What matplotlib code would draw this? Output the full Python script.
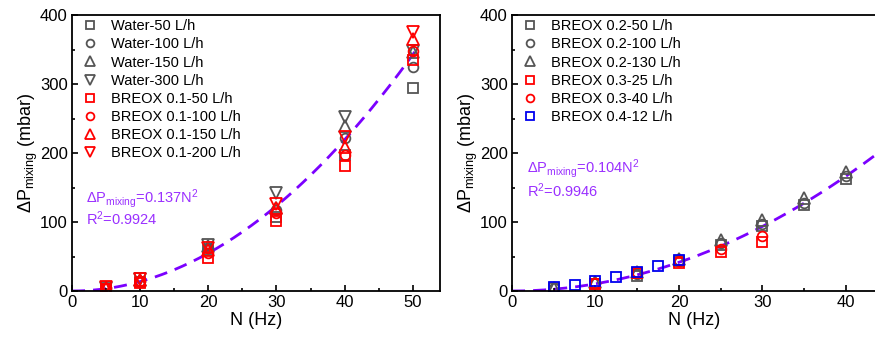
"""Pressure drop in the mixing section versus rotor frequency, two panels."""

import matplotlib.pyplot as plt
import numpy as np

plt.rcParams["font.family"] = ["Liberation Sans", "DejaVu Sans"]
plt.rcParams["mathtext.fontset"] = "custom"
plt.rcParams["mathtext.rm"] = "Liberation Sans"
plt.rcParams["mathtext.it"] = "Liberation Sans"

GRAY = "#555555"
RED = "#ff0000"
BLUE = "#0000ee"
FIT_COLOR = "#7b00ff"
TEXT_COLOR = "#9a30ff"

# left panel: water and BREOX 0.1
N_LEFT = [5, 10, 20, 30, 40, 50]
water_50 = [3, 13, 60, 107, 197, 294]
water_100 = [4, 14, 62, 117, 222, 324]
water_150 = [5, 16, 65, 120, 239, 346]
water_300 = [5, 17, 66, 142, 252, 348]
breox01_50 = [3, 12, 48, 101, 181, 335]
breox01_100 = [4, 14, 55, 113, 197, 348]
breox01_150 = [5, 16, 60, 120, 209, 365]
breox01_200 = [6, 17, 62, 126, 223, 376]
FIT_LEFT = 0.137

# right panel: BREOX 0.2, 0.3 and 0.4
N_RIGHT = [5, 10, 15, 20, 25, 30, 35, 40]
breox02_50 = [4, 10, 22, 43, 67, 94, 125, 162]
breox02_100 = [4, 11, 24, 45, 69, 97, 128, 166]
breox02_130 = [5, 13, 27, 47, 74, 103, 135, 173]
N_RIGHT_03 = [10, 15, 20, 25, 30]
breox03_25 = [10, 26, 41, 57, 71]
breox03_40 = [12, 27, 43, 61, 79]
N_RIGHT_04 = [5, 7.5, 10, 12.5, 15, 17.5, 20]
breox04_12 = [6, 9, 14, 21, 28, 36, 45]
FIT_RIGHT = 0.104

LEFT_SERIES = [
    ("Water-50 L/h", N_LEFT, water_50, "s", GRAY),
    ("Water-100 L/h", N_LEFT, water_100, "o", GRAY),
    ("Water-150 L/h", N_LEFT, water_150, "^", GRAY),
    ("Water-300 L/h", N_LEFT, water_300, "v", GRAY),
    ("BREOX 0.1-50 L/h", N_LEFT, breox01_50, "s", RED),
    ("BREOX 0.1-100 L/h", N_LEFT, breox01_100, "o", RED),
    ("BREOX 0.1-150 L/h", N_LEFT, breox01_150, "^", RED),
    ("BREOX 0.1-200 L/h", N_LEFT, breox01_200, "v", RED),
]

RIGHT_SERIES = [
    ("BREOX 0.2-50 L/h", N_RIGHT, breox02_50, "s", GRAY),
    ("BREOX 0.2-100 L/h", N_RIGHT, breox02_100, "o", GRAY),
    ("BREOX 0.2-130 L/h", N_RIGHT, breox02_130, "^", GRAY),
    ("BREOX 0.3-25 L/h", N_RIGHT_03, breox03_25, "s", RED),
    ("BREOX 0.3-40 L/h", N_RIGHT_03, breox03_40, "o", RED),
    ("BREOX 0.4-12 L/h", N_RIGHT_04, breox04_12, "s", BLUE),
]

MARKER_SIZE = {"s": 6.5, "o": 7, "^": 8.5, "v": 8.5}


def draw_panel(ax, series, fit_coef, fit_end, xlim, xticks, text_pos, r2_label):
    for label, x, y, marker, color in series:
        ax.plot(x, y, linestyle="none", marker=marker, markersize=MARKER_SIZE[marker],
                markerfacecolor="none", markeredgecolor=color, markeredgewidth=1.3,
                label=label)

    n_fit = np.linspace(0, fit_end, 200)
    ax.plot(n_fit, fit_coef * n_fit ** 2, color=FIT_COLOR, linewidth=2,
            dashes=(4.7, 2.9), zorder=1)

    ax.set_xlim(*xlim)
    ax.set_ylim(0, 400)
    ax.set_xticks(xticks)
    ax.set_xticks(np.arange(5, xlim[1], 10), minor=True)
    ax.set_yticks([0, 100, 200, 300, 400])
    ax.set_yticks([50, 150, 250, 350], minor=True)
    ax.tick_params(which="both", direction="in", labelsize=12, width=1.2, pad=3)
    ax.tick_params(which="major", length=4)
    ax.tick_params(which="minor", length=2.5)
    for spine in ax.spines.values():
        spine.set_linewidth(1.3)

    ax.set_xlabel("N (Hz)", fontsize=13, labelpad=1)
    ax.set_ylabel(r"$\Delta$P$_{\rm mixing}$ (mbar)", fontsize=13, labelpad=0)

    ax.legend(loc="upper left", frameon=False, fontsize=10.5, markerscale=0.8,
              handletextpad=0.5, handlelength=1.85, labelspacing=0.28,
              borderpad=0.1, borderaxespad=0.2)

    eq_text = r"$\Delta$P$_{\rm mixing}$=" + f"{fit_coef:.3f}" + r"N$^{2}$"
    ax.text(text_pos[0], text_pos[1], eq_text, transform=ax.transAxes,
            color=TEXT_COLOR, fontsize=10.5)
    ax.text(text_pos[0], text_pos[2], r2_label, transform=ax.transAxes,
            color=TEXT_COLOR, fontsize=10.5)


def main():
    fig = plt.figure(figsize=(8.75, 3.38), dpi=100)

    ax_left = fig.add_axes([72 / 875, 47 / 338, 368 / 875, 276 / 338])
    ax_right = fig.add_axes([512 / 875, 47 / 338, 364 / 875, 276 / 338])

    draw_panel(ax_left, LEFT_SERIES, FIT_LEFT, 50.3, (0, 54), [0, 10, 20, 30, 40, 50],
               (0.038, 0.32, 0.239), r"R$^{2}$=0.9924")
    draw_panel(ax_right, RIGHT_SERIES, FIT_RIGHT, 43.6, (0, 43.6), [0, 10, 20, 30, 40],
               (0.041, 0.428, 0.34), r"R$^{2}$=0.9946")

    fig.savefig("out.png", dpi=100)


if __name__ == "__main__":
    main()
